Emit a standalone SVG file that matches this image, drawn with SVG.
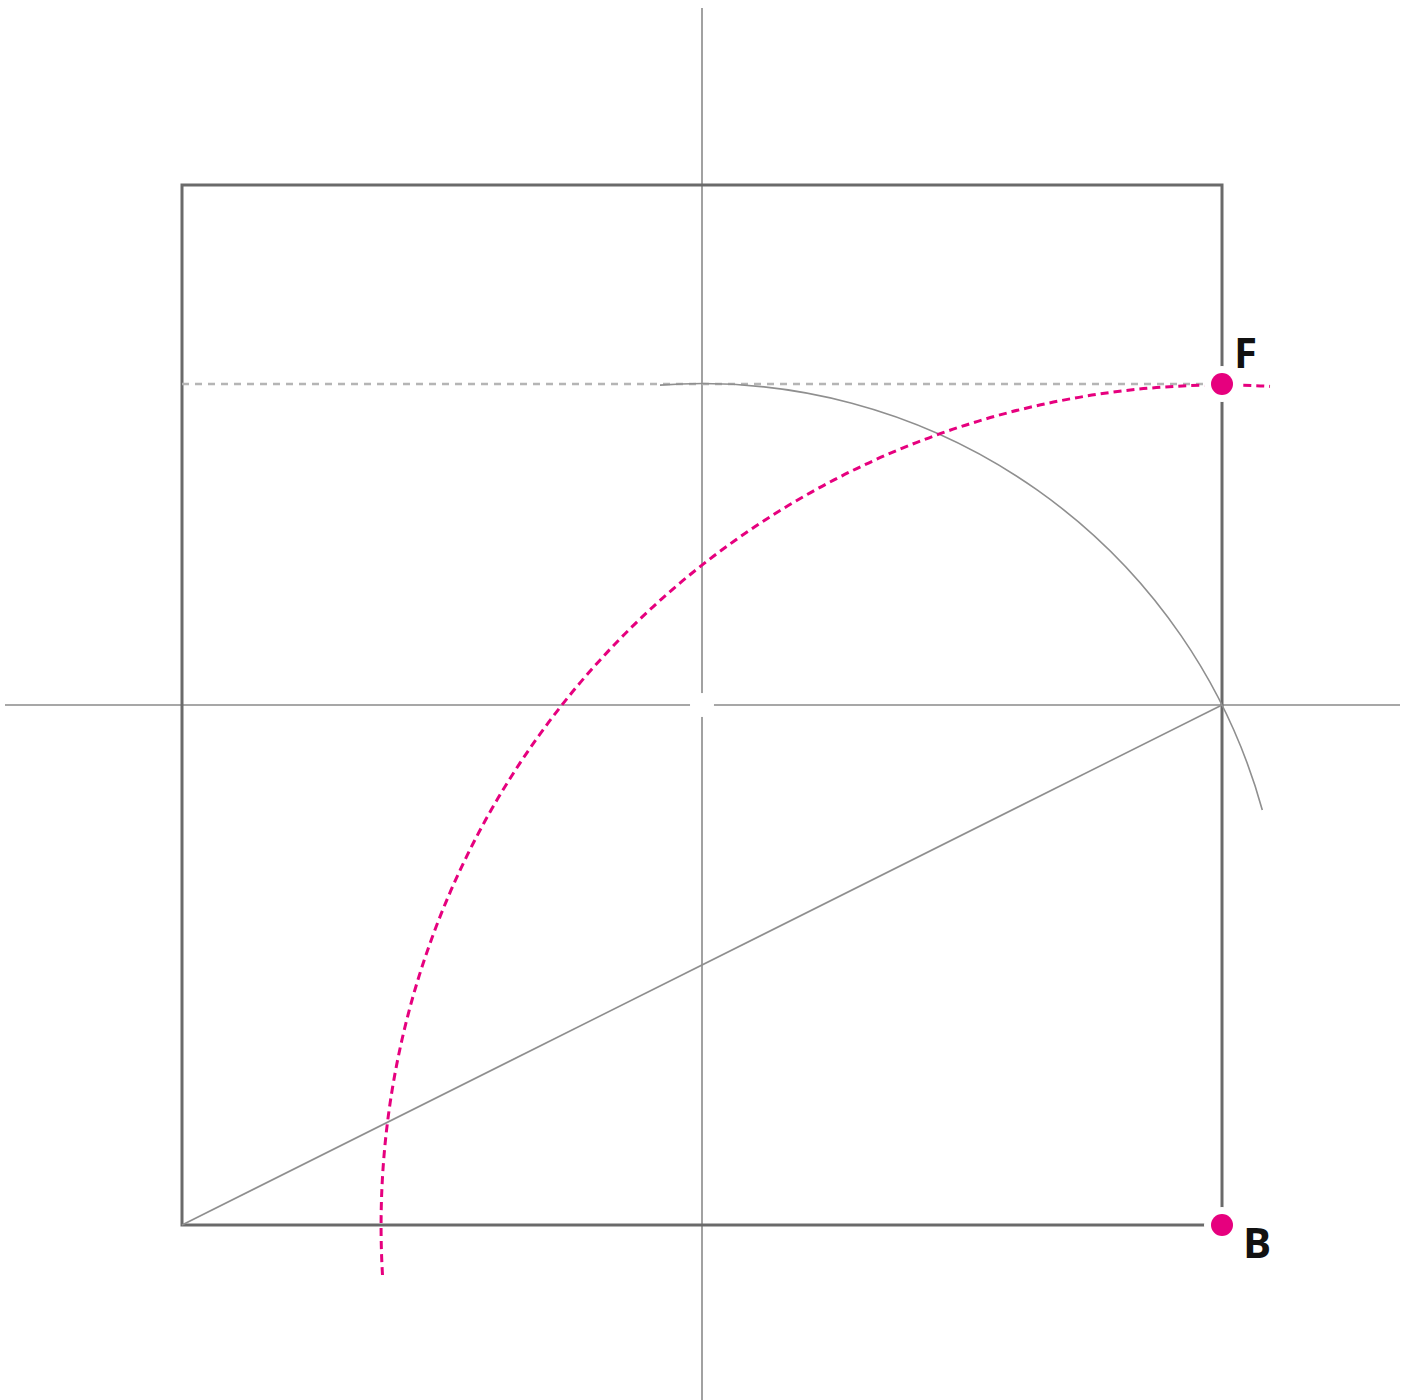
<svg xmlns="http://www.w3.org/2000/svg" width="1410" height="1400" viewBox="0 0 1410 1400">
<style>
.axis{stroke:#8a8a8a;stroke-width:1.6;fill:none}
.thin{stroke:#8f8f8f;stroke-width:1.6;fill:none}
.sq{stroke:#6a6a6a;stroke-width:3;fill:none}
.dot-guide{stroke:#b5b5b5;stroke-width:2.5;stroke-dasharray:7 6;fill:none}
.pink{stroke:#e6007e;stroke-width:3;stroke-dasharray:8 5;fill:none}
.halo{fill:#ffffff}
.pt{fill:#e6007e}
.lbl{font-family:"Open Sans","Liberation Sans",sans-serif;font-weight:bold;font-size:42px;fill:#111}
</style>
<rect width="1410" height="1400" fill="#ffffff"/>
<g id="connectors">
<line class="axis" x1="702" y1="8" x2="702" y2="1400"/>
<line class="axis" x1="5" y1="705" x2="1400" y2="705"/>
<circle class="halo" cx="702" cy="705" r="12"/>
<rect class="sq" x="182" y="185" width="1040" height="1040"/>
<line class="dot-guide" x1="182" y1="384" x2="1215" y2="384"/>
<path class="thin" d="M 660 385.1 A 581.4 581.4 0 0 1 1262.3 810"/>
<line class="thin" x1="182" y1="1225" x2="1222" y2="705"/>
<path class="pink" d="M 382.5 1275 A 841 841 0 0 1 1270 386.4"/>
</g>
<g id="F">
<circle class="halo" cx="1222" cy="384" r="18"/>
<circle class="pt" cx="1222" cy="384" r="11"/>
<text class="lbl" x="1234" y="368">F</text>
</g>
<g id="B">
<circle class="halo" cx="1222" cy="1225" r="18"/>
<circle class="pt" cx="1222" cy="1225" r="11"/>
<text class="lbl" x="1243" y="1258">B</text>
</g>
</svg>
